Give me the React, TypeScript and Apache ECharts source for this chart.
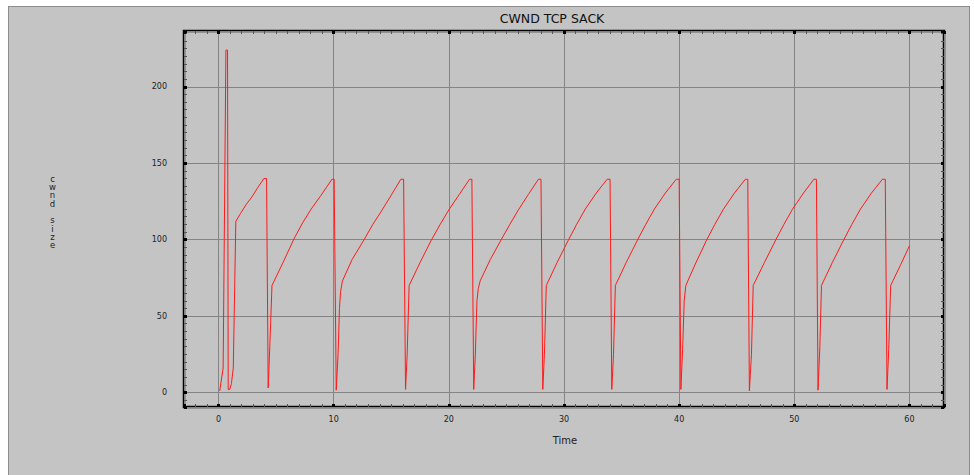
import React, { useEffect, useRef } from "react";
import * as echarts from "echarts";

// Time (x) and congestion window (y) samples
const time: number[] = [
  0.1, 0.4, 0.64, 0.78, 0.84, 0.98, 1.12, 1.28, 1.5, 1.9, 2.4, 2.9, 3.4, 3.94, 4.17,
  4.31, 4.45, 4.64, 5.6, 6.55, 7.3, 8.0, 8.9, 9.85, 10.04,
  10.22, 10.38, 10.5, 10.6, 10.76, 11.6, 12.64, 13.4, 14.09, 14.95, 15.83, 16.07,
  16.24, 16.38, 16.55, 17.5, 18.5, 19.25, 20.0, 20.9, 21.8, 22.0,
  22.16, 22.3, 22.44, 22.56, 22.72, 23.6, 24.55, 25.3, 26.0, 26.9, 27.78, 28.0,
  28.16, 28.3, 28.46, 29.4, 30.4, 31.1, 31.85, 32.8, 33.75, 34.0,
  34.15, 34.3, 34.46, 35.4, 36.4, 37.1, 37.85, 38.8, 39.75, 40.0,
  40.15, 40.3, 40.44, 40.58, 41.4, 42.4, 43.1, 43.85, 44.8, 45.75, 45.96,
  46.1, 46.28, 46.43, 47.4, 48.4, 49.1, 49.85, 50.8, 51.7, 51.92,
  52.06, 52.22, 52.36, 53.3, 54.3, 55.0, 55.75, 56.7, 57.65, 57.9,
  58.05, 58.2, 58.37, 59.2, 60.0,
];
const cwnd: number[] = [
  1, 16, 224, 224, 2, 2, 6, 16, 112, 117, 123, 128, 134, 140, 140,
  3, 30, 70, 85, 100.5, 111, 119.5, 129, 139.5, 139.5,
  1.5, 25, 55, 66, 73, 87, 100, 110, 118, 128.5, 139.5, 139.5,
  2, 25, 70, 85, 100, 110, 119.5, 129.5, 139.5, 139.5,
  2, 25, 60, 68, 73, 87, 100, 110, 119, 129.5, 139.5, 139.5,
  2, 25, 70, 85, 100, 110, 120, 130.5, 139.5, 139.5,
  2, 25, 70, 85, 100, 110, 120, 130.5, 139.5, 139.5,
  2, 28, 60, 70, 84, 100, 110, 120, 130.5, 139.5, 139.5,
  1, 25, 70, 85, 100, 110, 120, 130.5, 139.5, 139.5,
  1.5, 30, 70, 85, 100, 110, 120, 130.5, 139.5, 139.5,
  2, 28, 70, 83, 96,
];

const titleText = "CWND TCP SACK";
const xName = "Time";
const yName = "c\nw\nn\nd\n\ns\ni\nz\ne";

const X_MIN = -3;
const X_MAX = 63;
const Y_MIN = -9.5;
const Y_MAX = 236.5;

export default function App() {
  const ref = useRef<HTMLDivElement>(null);

  useEffect(() => {
    if (!ref.current) return;
    const chart = echarts.init(ref.current, null, { renderer: "svg" });
    const font = "DejaVu Sans";
    const tickCommon = {
      axisLine: { show: false, onZero: false },
      axisTick: { show: true, inside: true, length: 3, lineStyle: { color: "#000", width: 3 } },
      minorTick: { show: true, splitNumber: 10, length: 3, lineStyle: { color: "#555", width: 1 } },
    };
    const data = time.map((t, i) => [t, cwnd[i]]);
    chart.setOption({
      animation: false,
      backgroundColor: "transparent",
      textStyle: { fontFamily: font },
      grid: {
        left: 184,
        top: 31,
        right: 30,
        bottom: 68,
        show: true,
        borderColor: "#000",
        borderWidth: 2.5,
        backgroundColor: "transparent",
      },
      xAxis: [
        {
          type: "value",
          min: X_MIN,
          max: X_MAX,
          position: "bottom",
          ...tickCommon,
          axisLabel: {
            showMinLabel: false,
            showMaxLabel: false,
            fontSize: 8,
            color: "#222",
            margin: 8,
            fontFamily: font,
            formatter: (v: number) => (v % 10 === 0 ? String(v) : ""),
          },
          splitLine: { show: true, lineStyle: { color: "#848484", width: 1 } },
        },
        {
          type: "value",
          min: X_MIN,
          max: X_MAX,
          position: "top",
          ...tickCommon,
          axisLabel: { show: false },
          splitLine: { show: false },
        },
      ],
      yAxis: [
        {
          type: "value",
          min: Y_MIN,
          max: Y_MAX,
          position: "left",
          ...tickCommon,
          axisLabel: {
            showMinLabel: false,
            showMaxLabel: false,
            fontSize: 8,
            color: "#222",
            margin: 17,
            fontFamily: font,
            formatter: (v: number) => (v % 50 === 0 ? String(v) : ""),
          },
          splitLine: { show: true, lineStyle: { color: "#848484", width: 1 } },
        },
        {
          type: "value",
          min: Y_MIN,
          max: Y_MAX,
          position: "right",
          ...tickCommon,
          axisLabel: { show: false },
          splitLine: { show: false },
        },
      ],
      series: [
        {
          type: "line",
          xAxisIndex: 0,
          yAxisIndex: 0,
          data,
          showSymbol: false,
          symbol: "none",
          lineStyle: { color: "#ff1a1a", width: 1 },
          silent: true,
        },
      ],
      graphic: [
        {
          type: "text",
          x: 552,
          y: 18,
          style: {
            text: titleText,
            fontSize: 12.5,
            fontFamily: font,
            fill: "#111",
            textAlign: "center",
            textVerticalAlign: "middle",
          },
        },
        {
          type: "text",
          x: 565,
          y: 440,
          style: {
            text: xName,
            fontSize: 10,
            fontFamily: font,
            fill: "#222",
            textAlign: "center",
            textVerticalAlign: "middle",
          },
        },
        {
          type: "text",
          x: 52.5,
          y: 174.5,
          style: {
            text: yName,
            fontSize: 8.5,
            lineHeight: 8.35,
            fontFamily: font,
            fill: "#222",
            textAlign: "center",
            textVerticalAlign: "top",
          },
        },
      ],
    });
    return () => chart.dispose();
  }, []);

  return (
    <div style={{ position: "fixed", left: 0, top: 0, width: 974, height: 475, background: "#fff" }}>
      <div
        style={{
          position: "absolute",
          left: 8,
          top: 6,
          width: 962,
          height: 480,
          background: "#c4c4c4",
          border: "1px solid #8c8c8c",
          boxSizing: "border-box",
        }}
      />
      <div ref={ref} style={{ position: "absolute", left: 0, top: 0, width: 974, height: 475 }} />
    </div>
  );
}
